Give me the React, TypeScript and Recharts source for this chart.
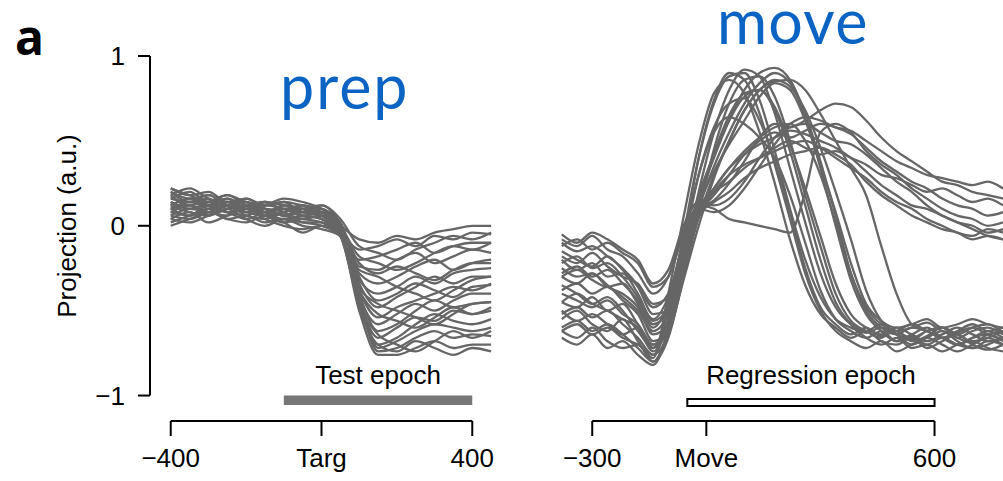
import { LineChart, Line, XAxis, YAxis, ReferenceLine, ReferenceArea } from 'recharts';

// time grids (ms)
const prepTimes = [-400, -350, -300, -250, -200, -150, -100, -50, 0, 50, 100, 150, 200, 250, 300, 350, 400, 450];
const moveTimes = [-380, -340, -300, -260, -220, -180, -140, -100, -60, -20, 20, 60, 100, 140, 180, 220, 260, 300, 340, 380, 420, 460, 500, 540, 580, 620, 660, 700, 740, 780];

// target-aligned projections onto the prep dimension
const prepTraces = [
  [0.20, 0.14, 0.16, 0.10, 0.12, 0.08, 0.12, 0.10, 0.06, 0.00, -0.08, -0.10, -0.06, -0.08, -0.04, -0.02, 0.00, 0.00],
  [0.12, 0.16, 0.10, 0.14, 0.08, 0.10, 0.06, 0.04, 0.02, -0.04, -0.14, -0.12, -0.08, -0.12, -0.06, -0.08, -0.04, -0.05],
  [0.08, 0.06, 0.12, 0.08, 0.04, 0.08, 0.10, 0.06, 0.04, -0.02, -0.20, -0.18, -0.14, -0.10, -0.16, -0.12, -0.10, -0.10],
  [0.22, 0.18, 0.20, 0.14, 0.16, 0.12, 0.14, 0.12, 0.10, 0.02, -0.24, -0.26, -0.20, -0.16, -0.22, -0.18, -0.14, -0.16],
  [0.04, 0.08, 0.02, 0.06, 0.10, 0.04, 0.00, -0.02, 0.00, -0.04, -0.28, -0.34, -0.30, -0.24, -0.20, -0.26, -0.22, -0.20],
  [0.14, 0.10, 0.14, 0.18, 0.12, 0.08, 0.10, 0.08, 0.06, -0.02, -0.32, -0.40, -0.36, -0.30, -0.34, -0.28, -0.26, -0.25],
  [0.10, 0.12, 0.08, 0.10, 0.14, 0.10, 0.06, 0.08, 0.12, 0.00, -0.34, -0.48, -0.42, -0.36, -0.30, -0.34, -0.30, -0.30],
  [0.18, 0.12, 0.14, 0.08, 0.10, 0.14, 0.12, 0.10, 0.08, -0.02, -0.38, -0.54, -0.48, -0.44, -0.40, -0.36, -0.38, -0.34],
  [0.02, 0.06, 0.10, 0.04, 0.06, 0.02, 0.04, 0.00, -0.02, -0.06, -0.42, -0.58, -0.52, -0.46, -0.50, -0.44, -0.40, -0.40],
  [0.16, 0.20, 0.14, 0.16, 0.10, 0.12, 0.16, 0.14, 0.10, 0.00, -0.40, -0.62, -0.58, -0.50, -0.44, -0.48, -0.46, -0.45],
  [0.12, 0.08, 0.06, 0.12, 0.08, 0.06, 0.08, 0.12, 0.06, -0.04, -0.44, -0.66, -0.60, -0.54, -0.56, -0.50, -0.52, -0.50],
  [0.06, 0.10, 0.08, 0.06, 0.12, 0.08, 0.04, 0.06, 0.04, -0.06, -0.46, -0.70, -0.66, -0.58, -0.52, -0.56, -0.58, -0.55],
  [0.20, 0.16, 0.18, 0.12, 0.08, 0.12, 0.10, 0.06, 0.08, -0.02, -0.40, -0.72, -0.68, -0.62, -0.58, -0.60, -0.62, -0.60],
  [0.10, 0.14, 0.12, 0.16, 0.12, 0.10, 0.06, 0.10, 0.04, -0.04, -0.44, -0.74, -0.72, -0.66, -0.62, -0.66, -0.64, -0.65],
  [0.14, 0.10, 0.12, 0.08, 0.06, 0.10, 0.08, 0.02, 0.02, -0.06, -0.50, -0.76, -0.76, -0.72, -0.68, -0.72, -0.70, -0.70],
  [0.08, 0.12, 0.06, 0.10, 0.14, 0.06, 0.12, 0.08, 0.06, -0.02, -0.36, -0.46, -0.50, -0.54, -0.58, -0.52, -0.46, -0.45],
  [0.16, 0.14, 0.18, 0.12, 0.10, 0.14, 0.08, 0.04, 0.06, -0.02, -0.26, -0.30, -0.36, -0.40, -0.44, -0.38, -0.32, -0.30],
  [0.06, 0.04, 0.08, 0.12, 0.06, 0.04, 0.08, 0.10, 0.08, 0.00, -0.18, -0.22, -0.26, -0.22, -0.16, -0.12, -0.14, -0.10],
  [0.18, 0.22, 0.16, 0.12, 0.16, 0.10, 0.06, 0.10, 0.12, 0.04, -0.12, -0.16, -0.20, -0.14, -0.10, -0.06, -0.08, -0.04],
  [0.04, 0.02, 0.06, 0.10, 0.04, 0.00, 0.04, 0.02, 0.00, -0.06, -0.38, -0.52, -0.56, -0.60, -0.54, -0.48, -0.52, -0.48],
  [0.12, 0.16, 0.12, 0.08, 0.12, 0.14, 0.10, 0.12, 0.08, -0.02, -0.30, -0.44, -0.40, -0.34, -0.38, -0.42, -0.36, -0.35],
  [0.10, 0.06, 0.10, 0.14, 0.10, 0.06, 0.02, 0.04, 0.06, -0.04, -0.46, -0.64, -0.70, -0.74, -0.68, -0.62, -0.66, -0.62],
  [0.22, 0.18, 0.14, 0.18, 0.14, 0.12, 0.14, 0.08, 0.10, 0.00, -0.22, -0.28, -0.24, -0.28, -0.32, -0.26, -0.22, -0.22],
  [0.00, 0.04, 0.08, 0.04, 0.02, 0.06, 0.02, -0.04, 0.00, -0.06, -0.48, -0.70, -0.74, -0.68, -0.72, -0.76, -0.72, -0.74],
];

// movement-aligned projections onto the same dimension
const moveTraces = [
  [-0.35, -0.40, -0.46, -0.42, -0.50, -0.62, -0.72, -0.50, -0.05, 0.40, 0.72, 0.88, 0.90, 0.74, 0.44, 0.10, -0.20, -0.42, -0.55, -0.60, -0.63, -0.60, -0.64, -0.67, -0.62, -0.60, -0.66, -0.69, -0.64, -0.62],
  [-0.55, -0.50, -0.58, -0.62, -0.55, -0.68, -0.78, -0.40, 0.05, 0.48, 0.78, 0.86, 0.78, 0.55, 0.25, -0.08, -0.35, -0.52, -0.60, -0.66, -0.62, -0.68, -0.70, -0.66, -0.72, -0.68, -0.64, -0.70, -0.73, -0.70],
  [-0.25, -0.30, -0.28, -0.36, -0.40, -0.48, -0.64, -0.58, -0.22, 0.20, 0.55, 0.80, 0.92, 0.88, 0.66, 0.34, 0.02, -0.28, -0.48, -0.58, -0.62, -0.58, -0.62, -0.60, -0.57, -0.62, -0.64, -0.60, -0.58, -0.63],
  [-0.62, -0.66, -0.60, -0.68, -0.72, -0.70, -0.80, -0.66, -0.30, 0.10, 0.42, 0.65, 0.78, 0.80, 0.68, 0.44, 0.12, -0.20, -0.45, -0.58, -0.66, -0.70, -0.66, -0.72, -0.70, -0.74, -0.70, -0.68, -0.72, -0.74],
  [-0.45, -0.48, -0.42, -0.50, -0.46, -0.58, -0.70, -0.55, -0.12, 0.30, 0.58, 0.72, 0.75, 0.62, 0.38, 0.08, -0.25, -0.48, -0.58, -0.64, -0.60, -0.65, -0.62, -0.68, -0.65, -0.60, -0.66, -0.62, -0.60, -0.64],
  [-0.20, -0.26, -0.22, -0.30, -0.28, -0.40, -0.56, -0.48, -0.08, 0.30, 0.55, 0.64, 0.60, 0.52, 0.40, 0.18, -0.10, -0.38, -0.55, -0.62, -0.66, -0.62, -0.68, -0.64, -0.60, -0.66, -0.70, -0.66, -0.62, -0.66],
  [-0.38, -0.34, -0.40, -0.36, -0.44, -0.52, -0.68, -0.62, -0.30, 0.08, 0.45, 0.72, 0.86, 0.88, 0.76, 0.50, 0.18, -0.12, -0.40, -0.56, -0.62, -0.66, -0.60, -0.64, -0.68, -0.64, -0.60, -0.64, -0.68, -0.66],
  [-0.30, -0.34, -0.28, -0.35, -0.42, -0.50, -0.62, -0.52, -0.18, 0.15, 0.40, 0.62, 0.80, 0.90, 0.93, 0.86, 0.66, 0.38, 0.06, -0.28, -0.50, -0.60, -0.64, -0.60, -0.62, -0.66, -0.63, -0.60, -0.64, -0.67],
  [-0.50, -0.56, -0.52, -0.58, -0.64, -0.60, -0.72, -0.60, -0.25, 0.10, 0.35, 0.55, 0.72, 0.84, 0.90, 0.84, 0.64, 0.34, 0.00, -0.32, -0.52, -0.62, -0.68, -0.65, -0.70, -0.66, -0.70, -0.72, -0.68, -0.70],
  [-0.15, -0.20, -0.24, -0.18, -0.26, -0.36, -0.52, -0.50, -0.20, 0.12, 0.32, 0.48, 0.62, 0.76, 0.84, 0.80, 0.62, 0.36, 0.08, -0.22, -0.46, -0.56, -0.60, -0.58, -0.55, -0.60, -0.58, -0.55, -0.58, -0.60],
  [-0.40, -0.44, -0.48, -0.44, -0.52, -0.58, -0.70, -0.62, -0.28, 0.05, 0.30, 0.50, 0.68, 0.80, 0.85, 0.86, 0.80, 0.66, 0.50, 0.34, 0.18, -0.12, -0.40, -0.58, -0.62, -0.66, -0.70, -0.66, -0.64, -0.68],
  [-0.10, -0.15, -0.12, -0.18, -0.25, -0.35, -0.48, -0.40, -0.10, 0.10, 0.15, 0.25, 0.38, 0.52, 0.60, 0.58, 0.62, 0.68, 0.72, 0.70, 0.62, 0.52, 0.44, 0.38, 0.32, 0.26, 0.24, 0.20, 0.18, 0.16],
  [-0.22, -0.18, -0.25, -0.22, -0.30, -0.42, -0.55, -0.42, -0.12, 0.08, 0.18, 0.30, 0.42, 0.50, 0.55, 0.52, 0.56, 0.60, 0.58, 0.54, 0.46, 0.38, 0.32, 0.26, 0.22, 0.16, 0.12, 0.10, 0.06, 0.08],
  [-0.08, -0.12, -0.06, -0.14, -0.18, -0.28, -0.40, -0.30, -0.02, 0.10, 0.08, 0.12, 0.22, 0.35, 0.48, 0.58, 0.60, 0.55, 0.50, 0.48, 0.42, 0.34, 0.26, 0.20, 0.12, 0.06, 0.02, 0.00, -0.04, -0.02],
  [-0.30, -0.26, -0.32, -0.36, -0.34, -0.46, -0.60, -0.45, -0.08, 0.12, 0.10, 0.04, 0.02, 0.00, -0.02, -0.04, 0.20, 0.55, 0.60, 0.55, 0.44, 0.36, 0.30, 0.22, 0.16, 0.10, 0.06, 0.04, 0.00, 0.02],
  [-0.45, -0.40, -0.46, -0.50, -0.55, -0.60, -0.74, -0.58, -0.20, 0.08, 0.22, 0.34, 0.42, 0.48, 0.52, 0.56, 0.54, 0.50, 0.46, 0.40, 0.32, 0.24, 0.18, 0.12, 0.10, 0.06, 0.02, -0.02, -0.06, -0.08],
  [-0.12, -0.08, -0.14, -0.10, -0.16, -0.22, -0.36, -0.30, -0.05, 0.12, 0.20, 0.26, 0.34, 0.40, 0.46, 0.50, 0.46, 0.42, 0.44, 0.40, 0.36, 0.30, 0.28, 0.24, 0.20, 0.22, 0.18, 0.14, 0.16, 0.12],
  [-0.60, -0.56, -0.62, -0.58, -0.64, -0.72, -0.80, -0.62, -0.25, 0.05, 0.20, 0.30, 0.36, 0.40, 0.44, 0.48, 0.50, 0.46, 0.40, 0.34, 0.28, 0.20, 0.14, 0.10, 0.04, 0.00, -0.04, -0.06, -0.02, -0.04],
  [-0.28, -0.24, -0.30, -0.26, -0.34, -0.44, -0.58, -0.50, -0.16, 0.10, 0.22, 0.34, 0.44, 0.52, 0.58, 0.60, 0.50, 0.30, 0.02, -0.28, -0.48, -0.58, -0.62, -0.66, -0.62, -0.60, -0.64, -0.68, -0.66, -0.62],
  [-0.66, -0.70, -0.64, -0.72, -0.68, -0.76, -0.82, -0.60, -0.10, 0.40, 0.74, 0.90, 0.86, 0.66, 0.36, 0.04, -0.28, -0.50, -0.62, -0.68, -0.72, -0.68, -0.74, -0.70, -0.66, -0.70, -0.74, -0.70, -0.66, -0.70],
  [-0.05, -0.10, -0.04, -0.08, -0.14, -0.20, -0.34, -0.26, 0.00, 0.14, 0.12, 0.16, 0.26, 0.40, 0.52, 0.60, 0.64, 0.62, 0.58, 0.56, 0.50, 0.44, 0.38, 0.34, 0.30, 0.28, 0.26, 0.24, 0.26, 0.22],
  [-0.18, -0.22, -0.16, -0.24, -0.30, -0.34, -0.46, -0.42, -0.14, 0.18, 0.42, 0.62, 0.76, 0.80, 0.70, 0.48, 0.22, -0.06, -0.34, -0.52, -0.60, -0.64, -0.62, -0.58, -0.62, -0.66, -0.62, -0.58, -0.62, -0.60],
  [-0.52, -0.48, -0.54, -0.50, -0.58, -0.66, -0.76, -0.56, -0.18, 0.06, 0.14, 0.20, 0.28, 0.34, 0.38, 0.42, 0.44, 0.46, 0.42, 0.36, 0.26, 0.18, 0.12, 0.06, 0.02, -0.02, -0.04, -0.08, -0.06, -0.08],
  [-0.62, -0.58, -0.64, -0.60, -0.66, -0.70, -0.76, -0.64, -0.32, 0.00, 0.28, 0.50, 0.68, 0.80, 0.86, 0.82, 0.68, 0.46, 0.20, -0.08, -0.38, -0.56, -0.64, -0.70, -0.66, -0.62, -0.68, -0.72, -0.70, -0.66],
];

const prepTicks = [-400, 0, 400];
const prepTickLabels = ['\u2212400', 'Targ', '400'];
const moveTicks = [-300, 0, 600];
const moveTickLabels = ['\u2212300', 'Move', '600'];
const yTicks = [-1, 0, 1];
const yTickLabels = ['\u22121', '0', '1'];
const testEpoch = [-100, 400];
const regressionEpoch = [-50, 600];

const Y_DOMAIN: [number, number] = [-1.15, 1.33];
const LINE = '#666';
const BLUE = '#0b63c3';
const FONT = '"Liberation Sans", Arial, Helvetica, sans-serif';

const toRows = (times: number[], traces: number[][]) =>
  times.map((t, i) => {
    const row: Record<string, number> = { t };
    traces.forEach((tr, k) => {
      row['s' + k] = tr[i];
    });
    return row;
  });

const prepData = toRows(prepTimes, prepTraces);
const moveData = toRows(moveTimes, moveTraces);

const tickStyle = { fill: '#000', fontSize: 26 };
const tickLineStyle = { stroke: '#000', strokeWidth: 2 };

export default function App() {
  return (
    <div style={{ position: 'absolute', left: 0, top: 0, width: 1003, height: 481, background: '#fff', fontFamily: FONT }}>
      <div style={{ position: 'absolute', left: 0, top: 0 }}>
        <LineChart width={500} height={481} data={prepData} margin={{ top: 0, right: 7, bottom: 0, left: 0 }}>
          <XAxis
            dataKey="t"
            type="number"
            domain={[-455, 455]}
            ticks={prepTicks}
            tickFormatter={(v: number) => prepTickLabels[prepTicks.indexOf(v)]}
            axisLine={false}
            tickLine={tickLineStyle}
            tickSize={15}
            tickMargin={13}
            height={60}
            tick={tickStyle}
            interval={0}
          />
          <YAxis
            type="number"
            domain={Y_DOMAIN}
            ticks={yTicks}
            tickFormatter={(v: number) => yTickLabels[yTicks.indexOf(v)]}
            axisLine={false}
            tickLine={tickLineStyle}
            tickSize={12}
            tickMargin={13}
            width={150}
            tick={tickStyle}
            interval={0}
          />
          <ReferenceLine segment={[{ x: -400, y: Y_DOMAIN[0] }, { x: 400, y: Y_DOMAIN[0] }]} stroke="#000" strokeWidth={2} ifOverflow="visible" />
          <ReferenceLine segment={[{ x: -455, y: -1 }, { x: -455, y: 1 }]} stroke="#000" strokeWidth={2} ifOverflow="visible" />
          <ReferenceArea
            x1={testEpoch[0]}
            x2={testEpoch[1]}
            y1={-1.0}
            y2={-1.056}
            fill="#777"
            fillOpacity={1}
            stroke="none"
            ifOverflow="visible"
            label={{ value: 'Test epoch', position: 'top', offset: 12, fill: '#000', fontSize: 26 }}
          />
          {prepTraces.map((_, k) => (
            <Line key={k} dataKey={'s' + k} type="monotone" stroke={LINE} strokeWidth={2.3} dot={false} isAnimationActive={false} />
          ))}
        </LineChart>
      </div>
      <div style={{ position: 'absolute', left: 500, top: 0 }}>
        <LineChart width={503} height={481} data={moveData} margin={{ top: 0, right: 0, bottom: 0, left: 58 }}>
          <XAxis
            dataKey="t"
            type="number"
            domain={[-390, 780]}
            ticks={moveTicks}
            tickFormatter={(v: number) => moveTickLabels[moveTicks.indexOf(v)]}
            axisLine={false}
            tickLine={tickLineStyle}
            tickSize={15}
            tickMargin={13}
            height={60}
            tick={tickStyle}
            interval={0}
          />
          <YAxis type="number" domain={Y_DOMAIN} hide />
          <ReferenceLine segment={[{ x: -300, y: Y_DOMAIN[0] }, { x: 600, y: Y_DOMAIN[0] }]} stroke="#000" strokeWidth={2} ifOverflow="visible" />
          <ReferenceArea
            x1={regressionEpoch[0]}
            x2={regressionEpoch[1]}
            y1={-1.02}
            y2={-1.062}
            fill="#fff"
            fillOpacity={1}
            stroke="#000"
            strokeWidth={2}
            ifOverflow="visible"
            label={{ value: 'Regression epoch', position: 'top', offset: 15, fill: '#000', fontSize: 26 }}
          />
          {moveTraces.map((_, k) => (
            <Line key={k} dataKey={'s' + k} type="monotone" stroke={LINE} strokeWidth={2.3} dot={false} isAnimationActive={false} />
          ))}
        </LineChart>
      </div>
      <svg width={1003} height={481} style={{ position: 'absolute', left: 0, top: 0, pointerEvents: 'none' }}>
        <text x={15} y={55} fontSize={48} fontWeight="bold" fontFamily='"Open Sans", sans-serif' fill="#000">a</text>
        <text x={280} y={109} fontSize={61} letterSpacing={2} fontFamily="Lato, sans-serif" fill={BLUE}>prep</text>
        <text x={717} y={44} fontSize={61} letterSpacing={1.2} fontFamily="Lato, sans-serif" fill={BLUE}>move</text>
        <text x={76} y={226} fontSize={26} textAnchor="middle" transform="rotate(-90 76 226)" fill="#000">Projection (a.u.)</text>
      </svg>
    </div>
  );
}
